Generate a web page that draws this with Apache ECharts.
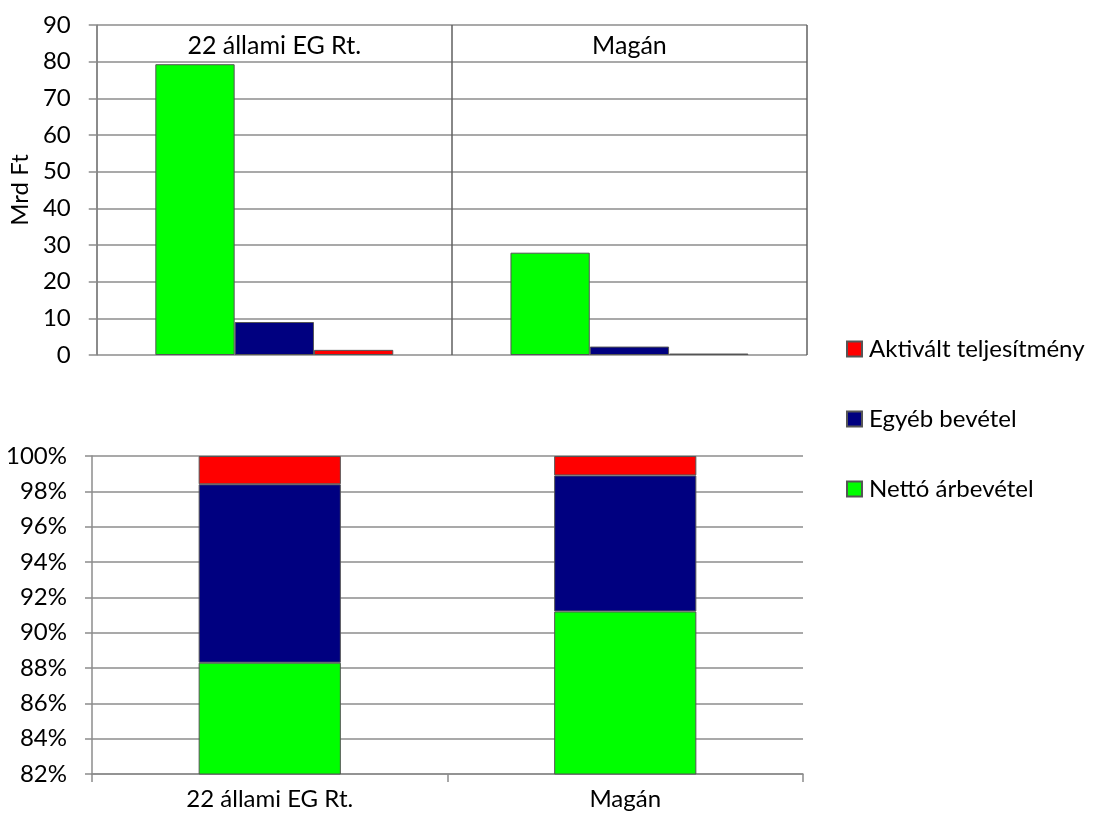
<!DOCTYPE html>
<html>
<head>
<meta charset="utf-8">
<script src="https://cdn.jsdelivr.net/npm/echarts@6/dist/echarts.min.js"></script>
<style>
html,body{margin:0;padding:0;background:#fff;}
#chart{width:1094px;height:822px;}
</style>
</head>
<body>
<div id="chart"></div>
<script>
// Categories
const categories = ['22 állami EG Rt.', 'Magán'];
const seriesNames = ['Nettó árbevétel', 'Egyéb bevétel', 'Aktivált teljesítmény'];

// Top chart: Mrd Ft
const nettoMrd = [79.3, 27.9];
const egyebMrd = [9.0, 2.3];
const aktivaltMrd = [1.4, 0.4];

// Bottom chart: share in %
const nettoPct = [88.3, 91.2];
const egyebPct = [10.1, 7.7];
const aktivaltPct = [1.6, 1.1];

// Tick labels
const topTicks = { min: 0, max: 90, interval: 10 };
const bottomTicks = { min: 82, max: 100, interval: 2 };

const colors = ['#00FF00', '#000080', '#FF0000'];
const FONT = 'Lato';
const FS = 24;
const gridColor = '#8c8c8c';

const chart = echarts.init(document.getElementById('chart'));

const topData = [nettoMrd, egyebMrd, aktivaltMrd];
const botData = [nettoPct, egyebPct, aktivaltPct];

const series = [];
seriesNames.forEach((name, i) => {
  series.push({
    name: name, type: 'bar', xAxisIndex: 0, yAxisIndex: 0,
    data: topData[i], barGap: '0%', barCategoryGap: '33%',
    itemStyle: { color: colors[i], borderColor: '#555', borderWidth: 1 },
    emphasis: { disabled: true }
  });
});
seriesNames.forEach((name, i) => {
  series.push({
    name: name, type: 'bar', xAxisIndex: 1, yAxisIndex: 1, stack: 'pct',
    data: botData[i], barWidth: '40%',
    itemStyle: { color: colors[i], borderColor: '#555', borderWidth: 1 },
    emphasis: { disabled: true }
  });
});

chart.setOption({
  animation: false,
  textStyle: { fontFamily: FONT },
  grid: [
    { left: 96, right: 287, top: 25, height: 330 },
    { left: 92, right: 291, top: 456, height: 318 }
  ],
  legend: {
    orient: 'vertical', left: 846, top: 337, itemGap: 46, padding: 0,
    itemWidth: 15, itemHeight: 15, icon: 'rect',
    data: ['Aktivált teljesítmény', 'Egyéb bevétel', 'Nettó árbevétel'],
    textStyle: { fontFamily: FONT, fontSize: FS, lineHeight: 24, color: '#000', padding: [0, 0, 0, 2] }
  },
  xAxis: [
    {
      gridIndex: 0, type: 'category', data: categories, position: 'top',
      axisLine: { show: false }, axisTick: { show: false },
      splitLine: { show: true, lineStyle: { color: '#606060', width: 1.5 } },
      axisLabel: { inside: true, margin: 8, fontSize: 25, color: '#000', fontFamily: FONT }
    },
    {
      gridIndex: 1, type: 'category', data: categories,
      axisLine: { show: true, lineStyle: { color: gridColor, width: 1.5 } },
      axisTick: { show: true, length: 8, lineStyle: { color: gridColor, width: 1.5 } },
      axisLabel: { margin: 13, fontSize: FS, color: '#000', fontFamily: FONT }
    }
  ],
  yAxis: [
    {
      gridIndex: 0, type: 'value', min: topTicks.min, max: topTicks.max, interval: topTicks.interval,
      name: 'Mrd Ft', nameLocation: 'middle', nameRotate: 90, nameGap: 63,
      nameTextStyle: { fontSize: FS, color: '#000', fontFamily: FONT },
      axisLine: { show: true, lineStyle: { color: gridColor, width: 1.5 } },
      axisTick: { show: true, length: 8, lineStyle: { color: gridColor, width: 1.5 } },
      splitLine: { show: true, lineStyle: { color: gridColor, width: 1.5 } },
      axisLabel: { margin: 26, fontSize: FS, color: '#000', fontFamily: FONT }
    },
    {
      gridIndex: 1, type: 'value', min: bottomTicks.min, max: bottomTicks.max, interval: bottomTicks.interval,
      axisLine: { show: true, lineStyle: { color: gridColor, width: 1.5 } },
      axisTick: { show: true, length: 7, lineStyle: { color: gridColor, width: 1.5 } },
      splitLine: { show: true, lineStyle: { color: gridColor, width: 1.5 } },
      axisLabel: { margin: 25, fontSize: FS, color: '#000', fontFamily: FONT, formatter: '{value}%' }
    }
  ],
  series: series
});
</script>
</body>
</html>
